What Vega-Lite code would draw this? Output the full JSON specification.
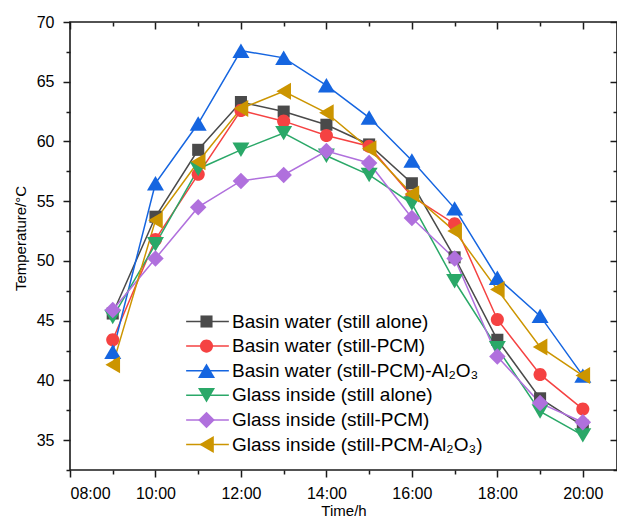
{
  "$schema": "https://vega.github.io/schema/vega-lite/v6.json",
  "width": 547,
  "height": 448,
  "autosize": {"type": "none"},
  "padding": {"left": 70, "top": 22, "right": 0, "bottom": 48},
  "background": "white",
  "config": {
    "font": "Liberation Sans",
    "view": {"stroke": "#1a1a1a", "strokeWidth": 1.6},
    "axis": {
      "domain": false,
      "grid": false,
      "tickColor": "#1a1a1a",
      "tickWidth": 1.5,
      "labelColor": "#000000",
      "labelFont": "Liberation Sans",
      "labelFontSize": 16,
      "titleFont": "Liberation Sans",
      "titleFontSize": 15,
      "titleFontWeight": "normal",
      "titleColor": "#000000"
    },
    "legend": {
      "labelFont": "Liberation Sans",
      "labelFontSize": 19,
      "labelColor": "#000000",
      "labelLimit": 500,
      "padding": 0
    }
  },
  "data": {
    "values": [
      {"series": "Basin water (still alone)", "hour": 9, "temp": 45.6},
      {"series": "Basin water (still alone)", "hour": 10, "temp": 53.7},
      {"series": "Basin water (still alone)", "hour": 11, "temp": 59.3},
      {"series": "Basin water (still alone)", "hour": 12, "temp": 63.3},
      {"series": "Basin water (still alone)", "hour": 13, "temp": 62.5},
      {"series": "Basin water (still alone)", "hour": 14, "temp": 61.4},
      {"series": "Basin water (still alone)", "hour": 15, "temp": 59.75},
      {"series": "Basin water (still alone)", "hour": 16, "temp": 56.5},
      {"series": "Basin water (still alone)", "hour": 17, "temp": 50.3},
      {"series": "Basin water (still alone)", "hour": 18, "temp": 43.4},
      {"series": "Basin water (still alone)", "hour": 19, "temp": 38.5},
      {"series": "Basin water (still alone)", "hour": 20, "temp": 36.2},
      {"series": "Basin water (still-PCM)", "hour": 9, "temp": 43.4},
      {"series": "Basin water (still-PCM)", "hour": 10, "temp": 51.8},
      {"series": "Basin water (still-PCM)", "hour": 11, "temp": 57.25},
      {"series": "Basin water (still-PCM)", "hour": 12, "temp": 62.6},
      {"series": "Basin water (still-PCM)", "hour": 13, "temp": 61.7},
      {"series": "Basin water (still-PCM)", "hour": 14, "temp": 60.5},
      {"series": "Basin water (still-PCM)", "hour": 15, "temp": 59.6},
      {"series": "Basin water (still-PCM)", "hour": 16, "temp": 55.4},
      {"series": "Basin water (still-PCM)", "hour": 17, "temp": 53.1},
      {"series": "Basin water (still-PCM)", "hour": 18, "temp": 45.1},
      {"series": "Basin water (still-PCM)", "hour": 19, "temp": 40.5},
      {"series": "Basin water (still-PCM)", "hour": 20, "temp": 37.6},
      {"series": "Basin water (still-PCM)-Al₂O₃", "hour": 9, "temp": 42.4},
      {"series": "Basin water (still-PCM)-Al₂O₃", "hour": 10, "temp": 56.5},
      {"series": "Basin water (still-PCM)-Al₂O₃", "hour": 11, "temp": 61.5},
      {"series": "Basin water (still-PCM)-Al₂O₃", "hour": 12, "temp": 67.6},
      {"series": "Basin water (still-PCM)-Al₂O₃", "hour": 13, "temp": 67.0},
      {"series": "Basin water (still-PCM)-Al₂O₃", "hour": 14, "temp": 64.7},
      {"series": "Basin water (still-PCM)-Al₂O₃", "hour": 15, "temp": 62.0},
      {"series": "Basin water (still-PCM)-Al₂O₃", "hour": 16, "temp": 58.4},
      {"series": "Basin water (still-PCM)-Al₂O₃", "hour": 17, "temp": 54.4},
      {"series": "Basin water (still-PCM)-Al₂O₃", "hour": 18, "temp": 48.6},
      {"series": "Basin water (still-PCM)-Al₂O₃", "hour": 19, "temp": 45.4},
      {"series": "Basin water (still-PCM)-Al₂O₃", "hour": 20, "temp": 40.4},
      {"series": "Glass inside (still alone)", "hour": 9, "temp": 45.3},
      {"series": "Glass inside (still alone)", "hour": 10, "temp": 51.4},
      {"series": "Glass inside (still alone)", "hour": 11, "temp": 57.7},
      {"series": "Glass inside (still alone)", "hour": 12, "temp": 59.3},
      {"series": "Glass inside (still alone)", "hour": 13, "temp": 60.7},
      {"series": "Glass inside (still alone)", "hour": 14, "temp": 58.8},
      {"series": "Glass inside (still alone)", "hour": 15, "temp": 57.2},
      {"series": "Glass inside (still alone)", "hour": 16, "temp": 54.8},
      {"series": "Glass inside (still alone)", "hour": 17, "temp": 48.3},
      {"series": "Glass inside (still alone)", "hour": 18, "temp": 42.7},
      {"series": "Glass inside (still alone)", "hour": 19, "temp": 37.4},
      {"series": "Glass inside (still alone)", "hour": 20, "temp": 35.4},
      {"series": "Glass inside (still-PCM)", "hour": 9, "temp": 45.9},
      {"series": "Glass inside (still-PCM)", "hour": 10, "temp": 50.2},
      {"series": "Glass inside (still-PCM)", "hour": 11, "temp": 54.5},
      {"series": "Glass inside (still-PCM)", "hour": 12, "temp": 56.7},
      {"series": "Glass inside (still-PCM)", "hour": 13, "temp": 57.2},
      {"series": "Glass inside (still-PCM)", "hour": 14, "temp": 59.2},
      {"series": "Glass inside (still-PCM)", "hour": 15, "temp": 58.2},
      {"series": "Glass inside (still-PCM)", "hour": 16, "temp": 53.6},
      {"series": "Glass inside (still-PCM)", "hour": 17, "temp": 50.2},
      {"series": "Glass inside (still-PCM)", "hour": 18, "temp": 42.0},
      {"series": "Glass inside (still-PCM)", "hour": 19, "temp": 38.1},
      {"series": "Glass inside (still-PCM)", "hour": 20, "temp": 36.5},
      {"series": "Glass inside (still-PCM-Al₂O₃)", "hour": 9, "temp": 41.3},
      {"series": "Glass inside (still-PCM-Al₂O₃)", "hour": 10, "temp": 53.4},
      {"series": "Glass inside (still-PCM-Al₂O₃)", "hour": 11, "temp": 58.3},
      {"series": "Glass inside (still-PCM-Al₂O₃)", "hour": 12, "temp": 62.75},
      {"series": "Glass inside (still-PCM-Al₂O₃)", "hour": 13, "temp": 64.2},
      {"series": "Glass inside (still-PCM-Al₂O₃)", "hour": 14, "temp": 62.4},
      {"series": "Glass inside (still-PCM-Al₂O₃)", "hour": 15, "temp": 59.4},
      {"series": "Glass inside (still-PCM-Al₂O₃)", "hour": 16, "temp": 55.6},
      {"series": "Glass inside (still-PCM-Al₂O₃)", "hour": 17, "temp": 52.5},
      {"series": "Glass inside (still-PCM-Al₂O₃)", "hour": 18, "temp": 47.6},
      {"series": "Glass inside (still-PCM-Al₂O₃)", "hour": 19, "temp": 42.8},
      {"series": "Glass inside (still-PCM-Al₂O₃)", "hour": 20, "temp": 40.4}
    ]
  },
  "resolve": {"axis": {"x": "independent", "y": "independent"}},
  "layer": [
    {
      "mark": {"type": "line", "strokeWidth": 1.5},
      "encoding": {
        "x": {
          "field": "hour", "type": "quantitative",
          "scale": {"domain": [8, 20.8], "nice": false, "zero": false},
          "axis": {
            "orient": "bottom", "values": [8, 10, 12, 14, 16, 18, 20],
            "tickSize": 7, "labelPadding": 8,
            "labelExpr": "(datum.value < 10 ? '0' : '') + datum.value + ':00'",
            "title": "Time/h", "titlePadding": 2
          }
        },
        "y": {
          "field": "temp", "type": "quantitative",
          "scale": {"domain": [32.5, 70], "nice": false, "zero": false},
          "axis": {
            "orient": "left", "values": [35, 40, 45, 50, 55, 60, 65, 70],
            "tickSize": 7, "labelPadding": 9,
            "title": "Temperature/°C", "titleX": -42, "titleY": 216
          }
        },
        "stroke": {
          "field": "series", "type": "nominal",
          "scale": {
            "domain": ["Basin water (still alone)", "Basin water (still-PCM)", "Basin water (still-PCM)-Al₂O₃", "Glass inside (still alone)", "Glass inside (still-PCM)", "Glass inside (still-PCM-Al₂O₃)"],
            "range": ["#4a4a4a", "#f54242", "#1565e0", "#2aa868", "#b070dd", "#cc9500"]
          },
          "legend": {
            "orient": "none", "legendX": 128, "legendY": 290, "title": null,
            "symbolType": "M-5,0H5", "symbolSize": 73, "symbolStrokeWidth": 1.5,
            "labelExpr": "' '", "rowPadding": 4.6
          }
        }
      }
    },
    {
      "mark": {"type": "point", "filled": true, "opacity": 1, "size": 289},
      "encoding": {
        "x": {
          "field": "hour", "type": "quantitative",
          "axis": {
            "orient": "bottom", "values": [9, 11, 13, 15, 17, 19],
            "tickSize": 4, "labels": false, "title": null
          }
        },
        "y": {
          "field": "temp", "type": "quantitative",
          "axis": {
            "orient": "left", "values": [32.5, 37.5, 42.5, 47.5, 52.5, 57.5, 62.5, 67.5],
            "tickSize": 4, "labels": false, "title": null
          }
        },
        "fill": {
          "field": "series", "type": "nominal",
          "scale": {"range": ["#4a4a4a", "#f54242", "#1565e0", "#2aa868", "#b070dd", "#cc9500"]},
          "legend": {
            "orient": "none", "legendX": 127, "legendY": 290, "title": null,
            "symbolSize": 289, "symbolStrokeWidth": 0, "rowPadding": 4.6, "labelOffset": 16
          }
        },
        "shape": {
          "field": "series", "type": "nominal",
          "scale": {"range": [
            "M-0.71,-0.71H0.71V0.71H-0.71Z",
            "M0.77,0A0.77,0.77,0,1,1,-0.77,0A0.77,0.77,0,1,1,0.77,0Z",
            "M0,-0.85L1,0.85L-1,0.85Z",
            "M0,0.85L1,-0.85L-1,-0.85Z",
            "M0,-0.97L0.97,0L0,0.97L-0.97,0Z",
            "M-0.86,0L0.86,-1L0.86,1Z"
          ]}
        }
      }
    },
    {
      "mark": {"type": "point", "opacity": 0},
      "encoding": {
        "x": {
          "field": "hour", "type": "quantitative",
          "axis": {"orient": "top", "values": [8, 10, 12, 14, 16, 18, 20], "tickSize": -7, "labels": false, "title": null}
        },
        "y": {
          "field": "temp", "type": "quantitative",
          "axis": {"orient": "right", "values": [35, 40, 45, 50, 55, 60, 65, 70], "tickSize": -7, "labels": false, "title": null}
        }
      }
    },
    {
      "mark": {"type": "point", "opacity": 0},
      "encoding": {
        "x": {
          "field": "hour", "type": "quantitative",
          "axis": {"orient": "top", "values": [9, 11, 13, 15, 17, 19], "tickSize": -4, "labels": false, "title": null}
        },
        "y": {
          "field": "temp", "type": "quantitative",
          "axis": {"orient": "right", "values": [32.5, 37.5, 42.5, 47.5, 52.5, 57.5, 62.5, 67.5], "tickSize": -4, "labels": false, "title": null}
        }
      }
    }
  ]
}
